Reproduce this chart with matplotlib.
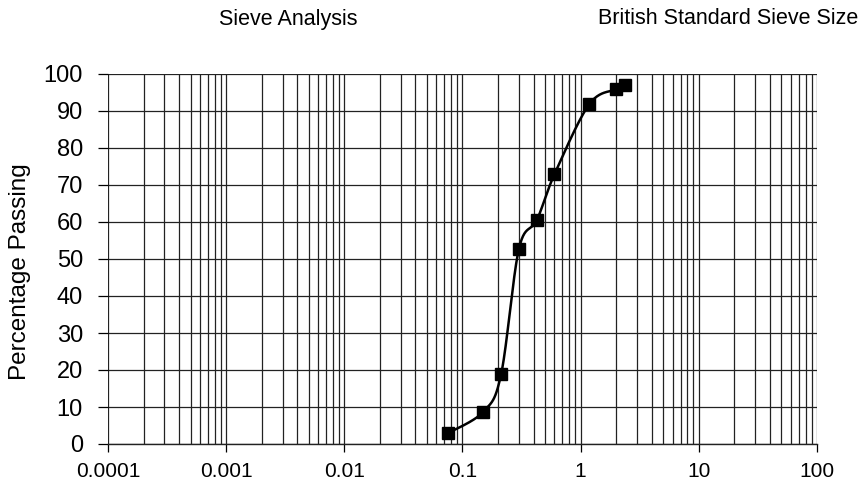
import numpy as np
import matplotlib
matplotlib.use("Agg")
import matplotlib.pyplot as plt
from matplotlib.ticker import LogLocator, FixedLocator, NullFormatter

sieve_mm = [0.075, 0.15, 0.212, 0.3, 0.425, 0.6, 1.18, 2.0, 2.36]
passing = [2.9, 8.7, 18.8, 52.7, 60.5, 72.9, 91.8, 95.9, 97.0]
x_tick_labels = ["0.0001", "0.001", "0.01", "0.1", "1", "10", "100"]
y_ticks = list(range(0, 101, 10))

plt.rcParams['font.family'] = ['Liberation Sans', 'DejaVu Sans']

W, H = 862, 487
fig = plt.figure(figsize=(W / 100, H / 100), dpi=100)
L, R, T, B = 108, 817, 74, 444
ax = fig.add_axes([L / W, 1 - B / H, (R - L) / W, (B - T) / H])

# Excel-like smoothed line (Bezier with Catmull-Rom control points) in log-x space
lx = np.log10(sieve_mm)
py = np.array(passing)
pts = np.column_stack([lx, py])
n = len(pts)
curve = []
t = np.linspace(0, 1, 40)
for i in range(n - 1):
    p0 = pts[i - 1] if i > 0 else pts[i]
    p1 = pts[i]
    p2 = pts[i + 1]
    p3 = pts[i + 2] if i + 2 < n else pts[i + 1]
    c1 = p1 + (p2 - p0) / 6
    c2 = p2 - (p3 - p1) / 6
    seg = ((1 - t)[:, None] ** 3 * p1 + 3 * ((1 - t) ** 2 * t)[:, None] * c1
           + 3 * ((1 - t) * t ** 2)[:, None] * c2 + (t ** 3)[:, None] * p2)
    curve.append(seg)
curve = np.vstack(curve)
ax.plot(10 ** curve[:, 0], curve[:, 1], color='black', lw=1.8, zorder=3)
ax.plot(sieve_mm, passing, linestyle='none', marker='s', markersize=8.5,
        color='black', zorder=4)

ax.set_xscale('log')
ax.set_xlim(1e-4, 100)
ax.set_ylim(0, 100)
major = [10.0 ** k for k in range(-4, 3)]
ax.xaxis.set_major_locator(FixedLocator(major))
ax.set_xticklabels(x_tick_labels)
ax.xaxis.set_minor_locator(LogLocator(base=10, subs=np.arange(2, 10), numticks=100))
ax.xaxis.set_minor_formatter(NullFormatter())
ax.set_yticks(y_ticks)
ax.set_yticklabels([str(v) for v in y_ticks])

ax.grid(True, which='both', axis='x', color='#222222', lw=0.9)
ax.grid(True, which='major', axis='y', color='#222222', lw=0.9)
ax.tick_params(axis='x', which='major', direction='out', length=6, width=0.9,
               labelsize=15, pad=7)
ax.tick_params(axis='x', which='minor', length=0)
ax.tick_params(axis='y', direction='out', length=7, width=0.9, labelsize=17, pad=11)

for s in ['top', 'right', 'left']:
    ax.spines[s].set_visible(False)
ax.spines['bottom'].set_color('#222222')
ax.spines['bottom'].set_linewidth(1.0)

fig.text(20 / W, 1 - 272 / H, 'Percentage Passing', rotation=90, ha='center',
         va='center', fontsize=17.5)

fig.text(288 / W, 1 - 20 / H, 'Sieve Analysis', ha='center', va='center', fontsize=15.5)
fig.text(728 / W, 1 - 18 / H, 'British Standard Sieve Size', ha='center', va='center',
         fontsize=15.5)

fig.savefig('out.png', dpi=100)
